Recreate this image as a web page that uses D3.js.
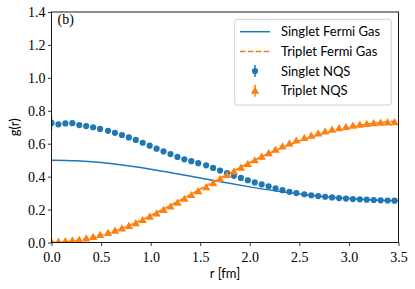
<!DOCTYPE html>
<html>
<head>
<meta charset="utf-8">
<script src="https://cdn.jsdelivr.net/npm/d3@7"></script>
<style>
    body { margin: 0; background: #fff; }
</style>
</head>
<body>
<div id="container"></div>
<script>
// NQS sample points (r in fm)
const r = [0.00, 0.07, 0.14, 0.21, 0.28, 0.35, 0.42, 0.49, 0.57, 0.64,
    0.71, 0.78, 0.85, 0.92, 0.99, 1.06, 1.13, 1.20, 1.27, 1.34,
    1.41, 1.48, 1.56, 1.63, 1.70, 1.77, 1.84, 1.91, 1.98, 2.05,
    2.12, 2.19, 2.26, 2.33, 2.40, 2.47, 2.55, 2.62, 2.69, 2.76,
    2.83, 2.90, 2.97, 3.04, 3.11, 3.18, 3.25, 3.32, 3.39, 3.46];

const singletNQS = [0.726, 0.718, 0.723, 0.725, 0.713, 0.707, 0.700, 0.690, 0.678, 0.666,
    0.653, 0.638, 0.623, 0.606, 0.588, 0.570, 0.553, 0.537, 0.520, 0.505,
    0.494, 0.482, 0.469, 0.453, 0.437, 0.421, 0.405, 0.392, 0.378, 0.365,
    0.353, 0.341, 0.329, 0.318, 0.308, 0.300, 0.293, 0.287, 0.282, 0.278,
    0.274, 0.270, 0.267, 0.264, 0.262, 0.260, 0.258, 0.256, 0.255, 0.254];
const singletErr = [0.043, 0.004, 0.004, 0.004, 0.003, 0.003, 0.003, 0.003, 0.003, 0.003,
    0.003, 0.003, 0.003, 0.003, 0.003, 0.003, 0.003, 0.003, 0.003, 0.003,
    0.003, 0.003, 0.003, 0.003, 0.003, 0.003, 0.003, 0.003, 0.003, 0.003,
    0.003, 0.003, 0.003, 0.003, 0.003, 0.003, 0.003, 0.003, 0.003, 0.003,
    0.003, 0.003, 0.003, 0.003, 0.003, 0.003, 0.003, 0.003, 0.003, 0.003];

const tripletNQS = [0.004, 0.005, 0.008, 0.012, 0.016, 0.024, 0.033, 0.046, 0.058, 0.071,
    0.085, 0.100, 0.117, 0.136, 0.156, 0.176, 0.197, 0.218, 0.241, 0.265,
    0.288, 0.312, 0.336, 0.360, 0.385, 0.410, 0.432, 0.454, 0.477, 0.499,
    0.521, 0.542, 0.563, 0.583, 0.602, 0.619, 0.635, 0.649, 0.662, 0.674,
    0.685, 0.694, 0.702, 0.709, 0.715, 0.720, 0.724, 0.727, 0.729, 0.731];
const tripletErr = [0.004, 0.003, 0.003, 0.003, 0.003, 0.003, 0.003, 0.003, 0.003, 0.003,
    0.003, 0.003, 0.003, 0.003, 0.003, 0.003, 0.003, 0.003, 0.003, 0.003,
    0.003, 0.003, 0.003, 0.003, 0.003, 0.003, 0.003, 0.003, 0.003, 0.003,
    0.003, 0.003, 0.003, 0.003, 0.003, 0.003, 0.003, 0.003, 0.003, 0.003,
    0.003, 0.003, 0.003, 0.003, 0.003, 0.003, 0.003, 0.003, 0.003, 0.003];

// Fermi gas curves
const rFermi = [0, 0.25, 0.5, 0.75, 1.0, 1.25, 1.5, 1.75, 2.0, 2.25, 2.5, 2.75, 3.0, 3.25, 3.5];
const singletFermi = [0.5000, 0.4962, 0.4853, 0.4679, 0.4454, 0.4194, 0.3917, 0.3640,
    0.3378, 0.3143, 0.2945, 0.2786, 0.2668, 0.2586, 0.2536];
const tripletFermi = [0.0000, 0.0113, 0.0442, 0.0963, 0.1638, 0.2417, 0.3248, 0.4080,
    0.4866, 0.5570, 0.6166, 0.6642, 0.6997, 0.7242, 0.7393];

const xTicks = [0, 0.5, 1.0, 1.5, 2.0, 2.5, 3.0, 3.5];
const yTicks = [0, 0.2, 0.4, 0.6, 0.8, 1.0, 1.2, 1.4];

const blue = '#1f77b4', orange = '#ff7f0e';
const serif = '"Liberation Serif", "DejaVu Serif", serif';
const sans = 'Lato, "DejaVu Sans", sans-serif';

const width = 415, height = 289;
const margin = {left: 51.5, right: 16.5, top: 12, bottom: 46.5};
const plotW = width - margin.left - margin.right;
const plotH = height - margin.top - margin.bottom;

const svg = d3.select('#container')
    .append('svg')
    .attr('width', width)
    .attr('height', height);

const x = d3.scaleLinear().domain([0, 3.5]).range([margin.left, margin.left + plotW]);
const y = d3.scaleLinear().domain([0, 1.4]).range([margin.top + plotH, margin.top]);

svg.append('clipPath')
    .attr('id', 'plot-clip')
    .append('rect')
    .attr('x', margin.left)
    .attr('y', margin.top)
    .attr('width', plotW)
    .attr('height', plotH);

const plot = svg.append('g').attr('clip-path', 'url(#plot-clip)');

// Fermi gas lines
const line = d3.line()
    .x(d => x(d[0]))
    .y(d => y(d[1]))
    .curve(d3.curveMonotoneX);

plot.append('path')
    .datum(rFermi.map((v, i) => [v, singletFermi[i]]))
    .attr('d', line)
    .attr('fill', 'none')
    .attr('stroke', blue)
    .attr('stroke-width', 1.5);

plot.append('path')
    .datum(rFermi.map((v, i) => [v, tripletFermi[i]]))
    .attr('d', line)
    .attr('fill', 'none')
    .attr('stroke', orange)
    .attr('stroke-width', 1.5)
    .attr('stroke-dasharray', '5.5,2.4');

const triangle = d3.symbol().type(d3.symbolTriangle).size(30);

function drawSeries(values, errs, color, marker) {
    const pts = r.map((v, i) => ({r: v, g: values[i], e: errs[i]}));
    const g = plot.append('g');
    g.selectAll('line')
        .data(pts)
        .enter()
        .append('line')
        .attr('x1', d => x(d.r))
        .attr('x2', d => x(d.r))
        .attr('y1', d => y(d.g - d.e))
        .attr('y2', d => y(d.g + d.e))
        .attr('stroke', color)
        .attr('stroke-width', 1.5);
    if (marker === 'circle') {
        g.selectAll('circle')
            .data(pts)
            .enter()
            .append('circle')
            .attr('cx', d => x(d.r))
            .attr('cy', d => y(d.g))
            .attr('r', 3.1)
            .attr('fill', color);
    } else {
        g.selectAll('path')
            .data(pts)
            .enter()
            .append('path')
            .attr('d', triangle)
            .attr('transform', d => `translate(${x(d.r)},${y(d.g) + 0.6})`)
            .attr('fill', color);
    }
}

drawSeries(singletNQS, singletErr, blue, 'circle');
drawSeries(tripletNQS, tripletErr, orange, 'triangle');

// 坐标轴
const xAxis = svg.append('g')
    .attr('transform', `translate(0,${margin.top + plotH})`)
    .call(d3.axisBottom(x).tickValues(xTicks).tickFormat(d3.format('.1f')).tickSizeOuter(0).tickSize(3.5));
const yAxis = svg.append('g')
    .attr('transform', `translate(${margin.left},0)`)
    .call(d3.axisLeft(y).tickValues(yTicks).tickFormat(d3.format('.1f')).tickSizeOuter(0).tickSize(3.5));

[xAxis, yAxis].forEach(a => {
    a.select('.domain').remove();
    a.selectAll('.tick line').attr('stroke', '#000').attr('stroke-width', 0.8);
    a.selectAll('.tick text')
        .attr('fill', '#000')
        .style('font-family', serif)
        .style('font-size', '14px');
});
xAxis.selectAll('.tick text').attr('dy', null).attr('y', 19);
yAxis.selectAll('.tick text').attr('x', -6).attr('dy', '0.33em');

// 边框
svg.append('rect')
    .attr('x', margin.left)
    .attr('y', margin.top)
    .attr('width', plotW)
    .attr('height', plotH)
    .attr('fill', 'none')
    .attr('stroke', '#000')
    .attr('stroke-width', 0.9);

svg.append('text')
    .attr('x', margin.left + plotW / 2)
    .attr('y', 278)
    .attr('text-anchor', 'middle')
    .style('font-family', sans)
    .style('font-size', '13px')
    .text('r [fm]');

svg.append('text')
    .attr('transform', `translate(19,${margin.top + plotH / 2}) rotate(-90)`)
    .attr('text-anchor', 'middle')
    .style('font-family', sans)
    .style('font-size', '13px')
    .text('g(r)');

svg.append('text')
    .attr('x', 57.5)
    .attr('y', 24)
    .style('font-family', serif)
    .style('font-size', '14px')
    .text('(b)');

// 图例
const legend = svg.append('g');
legend.append('rect')
    .attr('x', 234.7)
    .attr('y', 19.3)
    .attr('width', 156.6)
    .attr('height', 85.7)
    .attr('rx', 2.5)
    .attr('fill', '#fff')
    .attr('fill-opacity', 0.8)
    .attr('stroke', '#cccccc')
    .attr('stroke-width', 0.9);

const legendItems = [
    {label: 'Singlet Fermi Gas', color: blue, kind: 'line'},
    {label: 'Triplet Fermi Gas', color: orange, kind: 'dash'},
    {label: 'Singlet NQS', color: blue, kind: 'circle'},
    {label: 'Triplet NQS', color: orange, kind: 'triangle'}
];

legendItems.forEach((item, i) => {
    const cy = 31.7 + i * 19.7;
    const g = legend.append('g');
    if (item.kind === 'line' || item.kind === 'dash') {
        g.append('line')
            .attr('x1', 240).attr('x2', 270)
            .attr('y1', cy).attr('y2', cy)
            .attr('stroke', item.color)
            .attr('stroke-width', 1.5)
            .attr('stroke-dasharray', item.kind === 'dash' ? '5.5,2.4' : null);
    } else {
        g.append('line')
            .attr('x1', 255).attr('x2', 255)
            .attr('y1', cy - 6).attr('y2', cy + 6)
            .attr('stroke', item.color)
            .attr('stroke-width', 1.5);
        if (item.kind === 'circle') {
            g.append('circle').attr('cx', 255).attr('cy', cy).attr('r', 3.1).attr('fill', item.color);
        } else {
            g.append('path').attr('d', triangle).attr('transform', `translate(255,${cy + 0.6})`).attr('fill', item.color);
        }
    }
    g.append('text')
        .attr('x', 281)
        .attr('y', cy + 4.6)
        .style('font-family', sans)
        .style('font-size', '13px')
        .text(item.label);
});
</script>
</body>
</html>
